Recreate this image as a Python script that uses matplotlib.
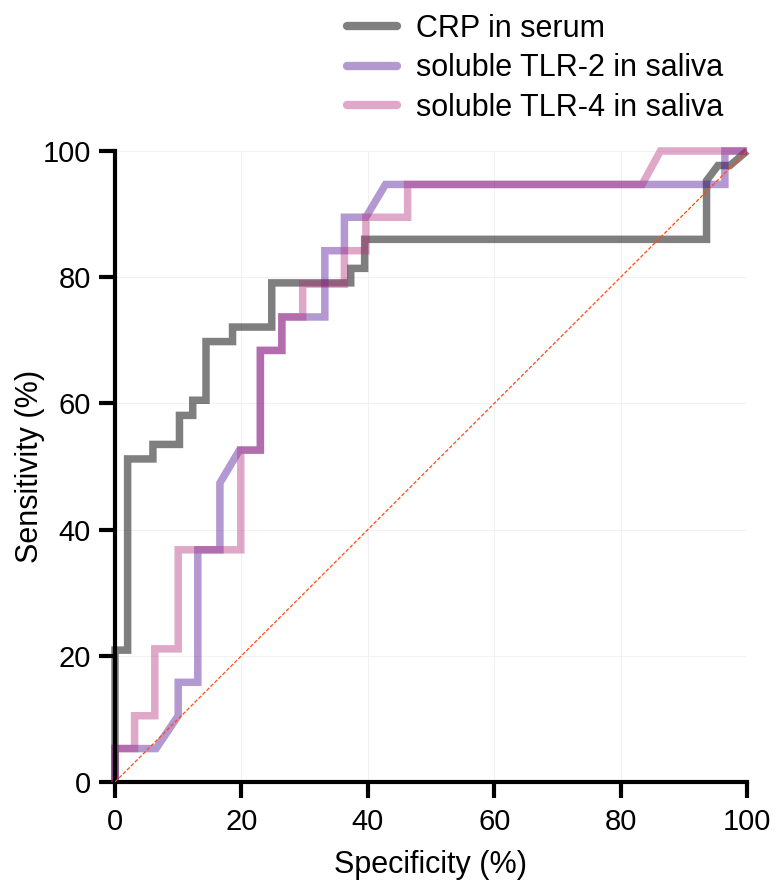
import numpy as np
import matplotlib.pyplot as plt

plt.rcParams['font.family'] = ['Liberation Sans', 'DejaVu Sans']

# ROC step curves (x = 100 - specificity axis units, y = sensitivity)
crp_x = [0, 0, 2.0, 2.0, 6.0, 6.0, 10.2, 10.2, 12.3, 12.3, 14.4, 14.4, 18.6, 18.6,
         24.8, 24.8, 37.3, 37.3, 39.5, 39.5, 93.6, 93.6, 95.4, 97.3, 100]
crp_y = [0, 20.9, 20.9, 51.2, 51.2, 53.5, 53.5, 58.1, 58.1, 60.5, 60.5, 69.8, 69.8, 72.1,
         72.1, 79.1, 79.1, 81.4, 81.4, 86.0, 86.0, 95.3, 97.7, 97.7, 100]

tlr2_x = [0, 0, 6.5, 10.0, 10.0, 13.1, 13.1, 16.6, 16.6, 19.7, 23.0, 23.0, 26.4, 26.4,
          33.2, 33.2, 36.3, 36.3, 39.7, 42.8, 96.5, 96.5, 100]
tlr2_y = [0, 5.3, 5.3, 10.5, 15.8, 15.8, 36.8, 36.8, 47.4, 52.6, 52.6, 68.4, 68.4, 73.7,
          73.7, 84.2, 84.2, 89.5, 89.5, 94.7, 94.7, 100, 100]

tlr4_x = [0, 0, 3.1, 3.1, 6.3, 6.3, 10.0, 10.0, 19.9, 19.9, 23.0, 23.0, 26.4, 26.4,
          29.7, 29.7, 36.3, 36.3, 39.7, 39.7, 46.3, 46.3, 83.4, 86.3, 100]
tlr4_y = [0, 5.3, 5.3, 10.5, 10.5, 21.1, 21.1, 36.8, 36.8, 52.6, 52.6, 68.4, 68.4, 73.7,
          73.7, 78.9, 78.9, 84.2, 84.2, 89.5, 89.5, 94.7, 94.7, 100, 100]

labels = ['CRP in serum', 'soluble TLR-2 in saliva', 'soluble TLR-4 in saliva']
colors = [(0.0, 0.0, 0.0, 0.5), (80/255, 17/255, 150/255, 0.43), (181/255, 48/255, 124/255, 0.42)]

fig = plt.figure(figsize=(7.78, 8.9), dpi=100)
ax = fig.add_axes([115/778, 1-782/890, (747-115)/778, (782-151)/890])

# curves
for xs, ys, c, lab in zip([crp_x, tlr2_x, tlr4_x], [crp_y, tlr2_y, tlr4_y], colors, labels):
    ax.plot(xs, ys, color=c, lw=5.4, label=lab, clip_on=False,
            solid_joinstyle='miter', solid_capstyle='butt')

ax.plot([0, 100], [0, 100], color='#ff4a10', lw=0.9, ls=(0, (3, 1.5)), zorder=5)

ax.set_xlim(0, 100)
ax.set_ylim(0, 100)
ticks = [0, 20, 40, 60, 80, 100]
ax.set_xticks(ticks)
ax.set_yticks(ticks)
ax.grid(True, color='#efefef', lw=0.6)
ax.set_axisbelow(True)
for s in ['top', 'right']:
    ax.spines[s].set_visible(False)
for s in ['left', 'bottom']:
    ax.spines[s].set_linewidth(3)
ax.tick_params(width=3, length=11.5, labelsize=21)
ax.tick_params(axis='x', pad=7)
ax.tick_params(axis='y', pad=6)
ax.set_xlabel('Specificity (%)', fontsize=22, labelpad=10)
ax.set_ylabel('Sensitivity (%)', fontsize=22, labelpad=-2)

leg = fig.legend(loc='upper left', bbox_to_anchor=(347/778, 1-14/890), frameon=False,
                 fontsize=22, handlelength=1.63, handletextpad=0.62, labelspacing=0.31,
                 borderpad=0, borderaxespad=0)
for h in leg.get_lines():
    h.set_linewidth(6)
    h.set_solid_capstyle('round')

fig.savefig('out.png', dpi=100)
